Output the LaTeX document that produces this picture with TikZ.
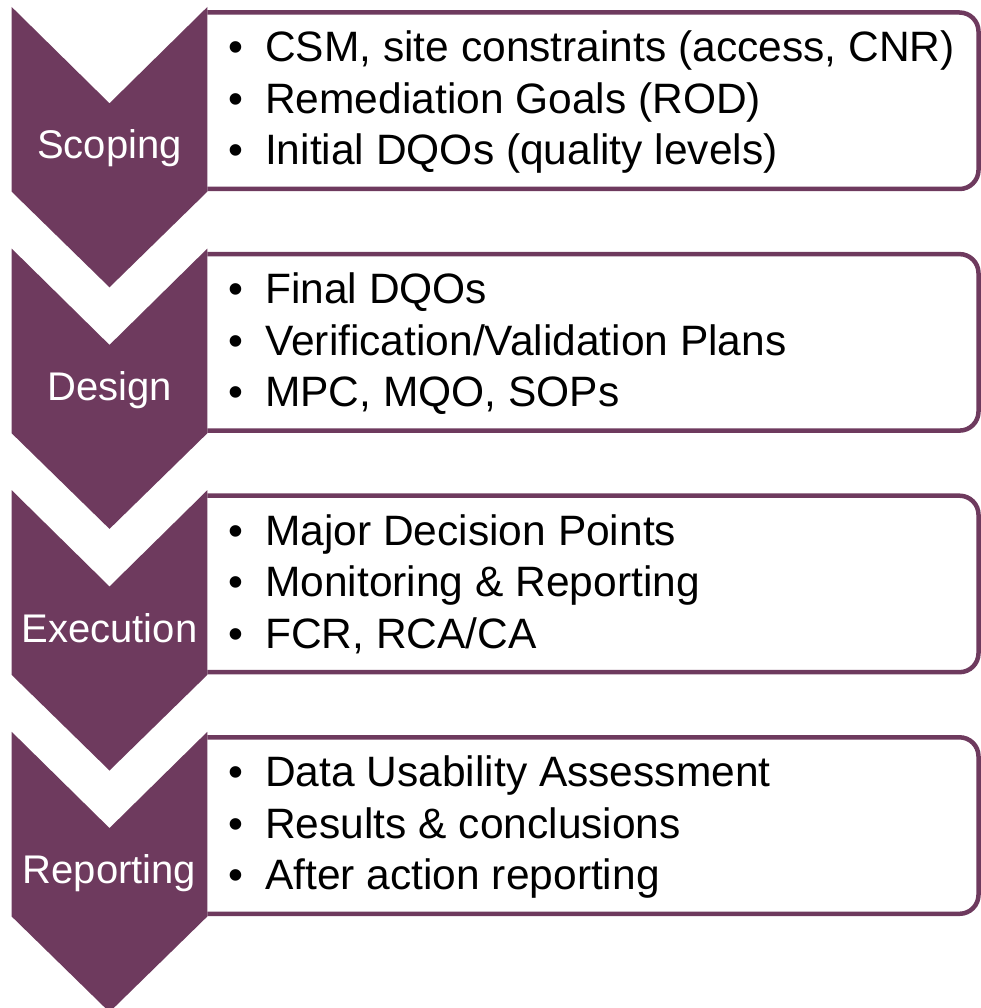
\documentclass[tikz,border=0pt]{standalone}
\usepackage{fontspec}
\setmainfont{Liberation Sans}
\definecolor{plum}{RGB}{110,58,94}
\newcommand{\itm}[1]{\makebox[36.4pt][l]{\textbullet}#1}
\tikzset{
  chevron/.style={fill=plum, draw=none},
  listbox/.style={fill=white, draw=plum, line width=4.5pt, rounded corners=19pt},
  phase/.style={text=white, inner sep=0pt, anchor=base, font=\fontsize{40}{48}\selectfont},
  item/.style={text=black, inner sep=0pt, anchor=base west, font=\fontsize{42.5}{50}\selectfont},
}
\begin{document}
\begin{tikzpicture}[x=1pt, y=-1pt]
\useasboundingbox (0,0) rectangle (981,1008);
% boxes behind, chevrons over their left edges
\foreach \k in {0,1,2,3} {
  \pgfmathsetmacro{\t}{12.5+241.6*\k}
  \pgfmathsetmacro{\b}{189+241.6*\k}
  \draw[listbox] (207.3,\t) -- (978.5,\t) -- (978.5,\b) -- (207.3,\b);
}
\foreach \k in {0,1,2,3} {
  \pgfmathsetmacro{\ya}{7+241.6*\k}
  \pgfmathsetmacro{\yn}{103.3+241.6*\k}
  \pgfmathsetmacro{\ys}{191.7+241.6*\k}
  \pgfmathsetmacro{\yt}{287.3+241.6*\k}
  \fill[chevron] (11.7,\ya) -- (109.5,\yn) -- (207.3,\ya) -- (207.3,\ys) -- (109.5,\yt) -- (11.7,\ys) -- cycle;
}
% phase labels
\node[phase] (scoping) at (109.5,159) {Scoping};
\node[phase] (design) at (109.5,400.6) {Design};
\node[phase] (execution) at (109.5,642.2) {Execution};
\node[phase] (reporting) at (109.5,883.8) {Reporting};
% list items
\node[item] (s1) at (228.6,62) {\itm{CSM, site constraints (access, CNR)}};
\node[item] (s2) at (228.6,113.5) {\itm{Remediation Goals (ROD)}};
\node[item] (s3) at (228.6,165) {\itm{Initial DQOs (quality levels)}};
\node[item] (d1) at (228.6,303.6) {\itm{Final DQOs}};
\node[item] (d2) at (228.6,355.1) {\itm{Verification/Validation Plans}};
\node[item] (d3) at (228.6,406.6) {\itm{MPC, MQO, SOPs}};
\node[item] (e1) at (228.6,545.2) {\itm{Major Decision Points}};
\node[item] (e2) at (228.6,596.7) {\itm{Monitoring \& Reporting}};
\node[item] (e3) at (228.6,648.2) {\itm{FCR, RCA/CA}};
\node[item] (r1) at (228.6,786.8) {\itm{Data Usability Assessment}};
\node[item] (r2) at (228.6,838.3) {\itm{Results \& conclusions}};
\node[item] (r3) at (228.6,889.8) {\itm{After action reporting}};
\end{tikzpicture}
\end{document}
